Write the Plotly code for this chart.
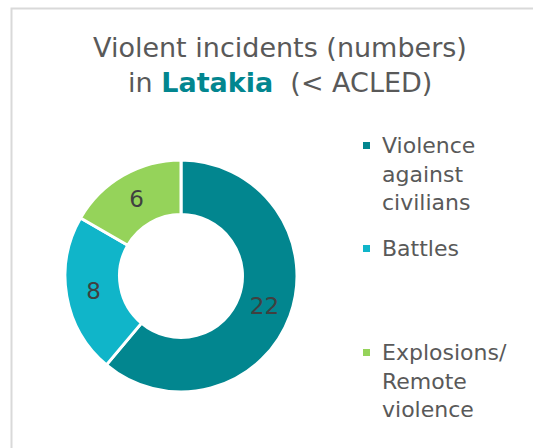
import plotly.graph_objects as go

# Incident counts by event type
categories = ["Violence against civilians", "Battles", "Explosions/Remote violence"]
legend_labels = ["Violence<br>against<br>civilians", "Battles", "Explosions/<br>Remote<br>violence"]
counts = [22, 8, 6]
colors = ["#02868F", "#10B5C9", "#95D35A"]

W, H = 533, 448
FONT = "DejaVu Sans"
GREY = "#595959"

def px_x(x):
    return x / W

def px_y(y):
    return 1 - y / H

fig = go.Figure(
    go.Pie(
        labels=categories,
        values=counts,
        hole=0.53,
        sort=False,
        direction="clockwise",
        rotation=0,
        marker=dict(colors=colors, line=dict(color="white", width=3)),
        textinfo="value",
        textposition="inside",
        insidetextorientation="horizontal",
        textfont=dict(family=FONT, size=23, color="#404040"),
        showlegend=False,
        hoverinfo="label+value",
        domain=dict(x=[px_x(65), px_x(297)], y=[px_y(392), px_y(160)]),
    )
)

# Chart frame
fig.add_shape(
    type="path",
    xref="paper", yref="paper",
    path=f"M {px_x(11.5)} {px_y(460)} L {px_x(11.5)} {px_y(8.5)} L {px_x(545)} {px_y(8.5)}",
    line=dict(color="#D9D9D9", width=2),
)

# Title
fig.add_annotation(
    x=px_x(280), y=px_y(47), xref="paper", yref="paper",
    text="Violent incidents (numbers)",
    showarrow=False, xanchor="center", yanchor="middle",
    font=dict(family=FONT, size=27, color=GREY),
)
fig.add_annotation(
    x=px_x(280), y=px_y(82), xref="paper", yref="paper",
    text="in <b><span style='color:#02868F'>Latakia</span></b>  (< ACLED)",
    showarrow=False, xanchor="center", yanchor="middle",
    font=dict(family=FONT, size=27, color=GREY),
)

# Legend: square swatch + wrapped label
legend_tops = [131, 234, 338]
for label, color, top in zip(legend_labels, colors, legend_tops):
    fig.add_shape(
        type="rect", xref="paper", yref="paper",
        x0=px_x(363), x1=px_x(370), y0=px_y(top + 18), y1=px_y(top + 11),
        fillcolor=color, line=dict(width=0),
    )
    fig.add_annotation(
        x=px_x(380), y=px_y(top), xref="paper", yref="paper",
        text=label, align="left",
        showarrow=False, xanchor="left", yanchor="top",
        font=dict(family=FONT, size=22, color=GREY),
    )

fig.update_layout(
    width=W, height=H,
    margin=dict(l=0, r=0, t=0, b=0),
    paper_bgcolor="white",
    plot_bgcolor="white",
)

fig.write_html("out.html")
